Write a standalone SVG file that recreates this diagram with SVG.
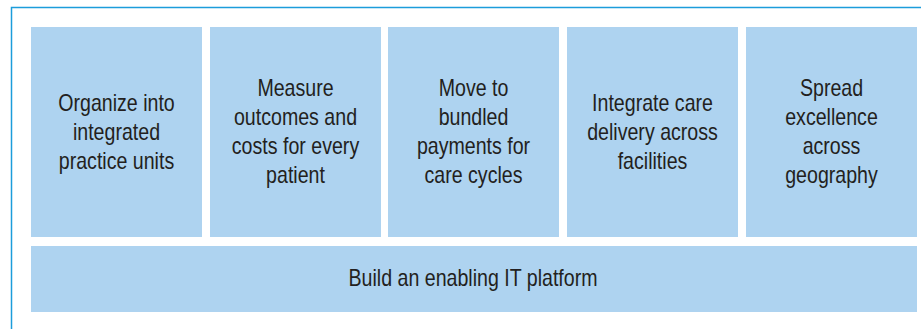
<svg xmlns="http://www.w3.org/2000/svg" width="921" height="329" viewBox="0 0 921 329">
  <style>
    .box { fill: #aed3f0; }
    .frame { fill: none; stroke: #1c9ddb; stroke-width: 1.5; }
    .lbl { font-family: "Liberation Sans", Arial, sans-serif; font-size: 23px; fill: #231f20; text-anchor: middle; }
  </style>
  <rect width="921" height="329" fill="#ffffff"/>
  <!-- outer frame, open to the right and bottom edges -->
  <rect class="frame" x="11.5" y="7.5" width="940" height="340"/>

  <g id="connectors"></g>

  <g id="node-organize">
    <rect class="box" x="31" y="27" width="171" height="210"/>
    <g transform="translate(116.5,0) scale(0.852,1)">
      <text class="lbl" x="0" y="111.5">Organize into</text>
      <text class="lbl" x="0" y="140.5">integrated</text>
      <text class="lbl" x="0" y="169.5">practice units</text>
    </g>
  </g>

  <g id="node-measure">
    <rect class="box" x="210" y="27" width="171" height="210"/>
    <g transform="translate(295.5,0) scale(0.852,1)">
      <text class="lbl" x="0" y="96.5">Measure</text>
      <text class="lbl" x="0" y="125.5">outcomes and</text>
      <text class="lbl" x="0" y="154.5">costs for every</text>
      <text class="lbl" x="0" y="183.5">patient</text>
    </g>
  </g>

  <g id="node-bundled">
    <rect class="box" x="388" y="27" width="171" height="210"/>
    <g transform="translate(473.5,0) scale(0.852,1)">
      <text class="lbl" x="0" y="96.5">Move to</text>
      <text class="lbl" x="0" y="125.5">bundled</text>
      <text class="lbl" x="0" y="154.5">payments for</text>
      <text class="lbl" x="0" y="183.5">care cycles</text>
    </g>
  </g>

  <g id="node-integrate">
    <rect class="box" x="567" y="27" width="171" height="210"/>
    <g transform="translate(652.5,0) scale(0.852,1)">
      <text class="lbl" x="0" y="111.5">Integrate care</text>
      <text class="lbl" x="0" y="140.5">delivery across</text>
      <text class="lbl" x="0" y="169.5">facilities</text>
    </g>
  </g>

  <g id="node-spread">
    <rect class="box" x="746" y="27" width="171" height="210"/>
    <g transform="translate(831.5,0) scale(0.852,1)">
      <text class="lbl" x="0" y="96.5">Spread</text>
      <text class="lbl" x="0" y="125.5">excellence</text>
      <text class="lbl" x="0" y="154.5">across</text>
      <text class="lbl" x="0" y="183.5">geography</text>
    </g>
  </g>

  <g id="node-it-platform">
    <rect class="box" x="31" y="246" width="886" height="66"/>
    <g transform="translate(473,0) scale(0.852,1)">
      <text class="lbl" x="0" y="286.5">Build an enabling IT platform</text>
    </g>
  </g>
</svg>
